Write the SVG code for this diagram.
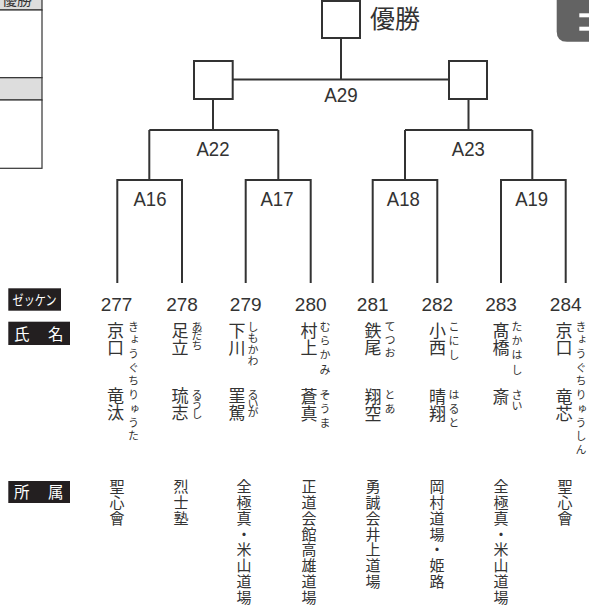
<svg xmlns="http://www.w3.org/2000/svg" width="589" height="612" viewBox="0 0 589 612">
<style>
.ln{stroke:#333;stroke-width:2;fill:none}
.bx{fill:#fff;stroke:#333;stroke-width:2}
.al{font-family:"Liberation Sans",Arial,sans-serif;font-size:20px;fill:#333;text-anchor:middle}
.num{font-family:"Liberation Sans",Arial,sans-serif;font-size:19px;fill:#333;text-anchor:middle}
.v{writing-mode:vertical-rl;font-family:"Noto Sans CJK JP",sans-serif;fill:#333}
.k{font-size:17px}
.f{font-size:11px}
.a{font-size:15px;letter-spacing:0.8px}
.tag{fill:#231f20}
.tt{font-family:"Noto Sans CJK JP",sans-serif;fill:#fff}
</style>
<g id="corner-table">
<rect x="-2" y="-2" width="44" height="12" fill="#ddd" stroke="#333" stroke-width="1.2"/>
<text x="17" y="5" font-family="Noto Sans CJK JP,sans-serif" font-size="15" fill="#333" text-anchor="middle">優勝</text>
<rect x="-2" y="10" width="44" height="67.7" fill="#fff" stroke="#333" stroke-width="1.2"/>
<rect x="-2" y="77.7" width="44" height="22.3" fill="#ddd" stroke="#333" stroke-width="1.2"/>
<rect x="-2" y="100" width="44" height="68.3" fill="#fff" stroke="#333" stroke-width="1.2"/>
</g>
<g id="tab">
<path d="M556.7,-1 H590 V41.7 H567 Q556.7,41.7 556.7,31.4 Z" fill="#636363"/>
<rect x="579.3" y="13.3" width="11" height="4" fill="#fff"/>
<rect x="579.3" y="26.7" width="11" height="4" fill="#fff"/>
</g>
<g id="connectors">
<path class="ln" d="M341,38 V79.5 M232.7,79.5 H449"/>
<path class="ln" d="M213,99 V130 M149.3,130 H278.3 M149.3,130 V180 M278.3,130 V180"/>
<path class="ln" d="M468.5,99 V130 M405,130 H532.3 M405,130 V180 M532.3,130 V180"/>
<path class="ln" d="M117.3,283 V180 H182 V283"/>
<path class="ln" d="M245.7,283 V180 H310.7 V283"/>
<path class="ln" d="M372.7,283 V180 H437.3 V283"/>
<path class="ln" d="M501,283 V180 H565.7 V283"/>
</g>
<g id="champion">
<rect class="bx" x="322" y="1" width="38" height="37"/>
<text x="370" y="27.8" font-family="Noto Sans CJK JP,sans-serif" font-size="25" fill="#333">優勝</text>
</g>
<g id="semi-left"><rect class="bx" x="194" y="61" width="38.7" height="38"/></g>
<g id="semi-right"><rect class="bx" x="449" y="61" width="38" height="38"/></g>
<g id="A29"><text class="al" x="341" y="102" textLength="33.5" lengthAdjust="spacingAndGlyphs">A29</text></g>
<g id="A22"><text class="al" x="213" y="155.7" textLength="33" lengthAdjust="spacingAndGlyphs">A22</text></g>
<g id="A23"><text class="al" x="468.3" y="155.7" textLength="33" lengthAdjust="spacingAndGlyphs">A23</text></g>
<g id="A16"><text class="al" x="150" y="205.5" textLength="33" lengthAdjust="spacingAndGlyphs">A16</text></g>
<g id="A17"><text class="al" x="277" y="205.5" textLength="33" lengthAdjust="spacingAndGlyphs">A17</text></g>
<g id="A18"><text class="al" x="403.3" y="205.5" textLength="33" lengthAdjust="spacingAndGlyphs">A18</text></g>
<g id="A19"><text class="al" x="531.7" y="205.5" textLength="33" lengthAdjust="spacingAndGlyphs">A19</text></g>
<g id="row-labels">
<rect class="tag" x="8.3" y="288.3" width="52.7" height="22.4"/>
<text class="tt" x="34.6" y="305" font-size="14" text-anchor="middle" textLength="44" lengthAdjust="spacingAndGlyphs">ゼッケン</text>
<rect class="tag" x="8.3" y="321.7" width="61.7" height="23.3"/>
<text class="tt" x="21.7" y="339.5" font-size="15.5" text-anchor="middle">氏</text>
<text class="tt" x="55.8" y="339.5" font-size="15.5" text-anchor="middle">名</text>
<rect class="tag" x="8.3" y="481" width="61.7" height="22"/>
<text class="tt" x="21.7" y="497.5" font-size="15.5" text-anchor="middle">所</text>
<text class="tt" x="55.8" y="497.5" font-size="15.5" text-anchor="middle">属</text>
</g>
<g id="p277">
<text class="num" x="116.5" y="310.7">277</text>
<text class="v k" x="115.5" y="322">京口</text>
<text class="v k" x="115.5" y="387">竜汰</text>
<text class="v f" x="133.5" y="321" letter-spacing="2.7">きょうぐちりゅうた</text>
<text class="v a" x="117" y="479">聖心會</text>
</g>
<g id="p278">
<text class="num" x="182" y="310.7">278</text>
<text class="v k" x="180" y="322">足立</text>
<text class="v k" x="180" y="387">琉志</text>
<text class="v f" x="197" y="321" font-size="9.5" letter-spacing="-1.25">あだち</text>
<text class="v f" x="197" y="389" letter-spacing="-1.1">るうし</text>
<text class="v a" x="181" y="479">烈士塾</text>
</g>
<g id="p279">
<text class="num" x="245.7" y="310.7">279</text>
<text class="v k" x="237" y="322">下川</text>
<text class="v k" x="237" y="387">罣駕</text>
<text class="v f" x="253" y="321" letter-spacing="0.6">しもかわ</text>
<text class="v f" x="253" y="389" letter-spacing="-1.9">るいが</text>
<text class="v a" x="244" y="479">全極真・米山道場</text>
</g>
<g id="p280">
<text class="num" x="310.7" y="310.7">280</text>
<text class="v k" x="309" y="322">村上</text>
<text class="v k" x="309" y="388">蒼真</text>
<text class="v f" x="325" y="321" letter-spacing="3.4">むらかみ</text>
<text class="v f" x="325" y="389" letter-spacing="3.1">そうま</text>
<text class="v a" x="309" y="479">正道会館高雄道場</text>
</g>
<g id="p281">
<text class="num" x="372.7" y="310.7">281</text>
<text class="v k" x="373" y="322">鉄尾</text>
<text class="v k" x="373" y="388">翔空</text>
<text class="v f" x="390" y="321" letter-spacing="2.25">てつお</text>
<text class="v f" x="390" y="389" letter-spacing="3.8">とあ</text>
<text class="v a" x="373" y="479">勇誠会井上道場</text>
</g>
<g id="p282">
<text class="num" x="437.3" y="310.7">282</text>
<text class="v k" x="437.5" y="322">小西</text>
<text class="v k" x="437.5" y="388">晴翔</text>
<text class="v f" x="454" y="321" letter-spacing="3">こにし</text>
<text class="v f" x="454" y="389" letter-spacing="3">はると</text>
<text class="v a" x="437" y="479">岡村道場・姫路</text>
</g>
<g id="p283">
<text class="num" x="501" y="310.7">283</text>
<text class="v k" x="501" y="322">髙橋</text>
<text class="v k" x="501" y="388">斎</text>
<text class="v f" x="517" y="321" letter-spacing="3.4">たかはし</text>
<text class="v f" x="517" y="389" letter-spacing="0.5">さい</text>
<text class="v a" x="501" y="479">全極真・米山道場</text>
</g>
<g id="p284">
<text class="num" x="565.7" y="310.7">284</text>
<text class="v k" x="564" y="322">京口</text>
<text class="v k" x="564" y="388">竜芯</text>
<text class="v f" x="581" y="321" letter-spacing="2.7">きょうぐちりゅうしん</text>
<text class="v a" x="565" y="479">聖心會</text>
</g>
</svg>
